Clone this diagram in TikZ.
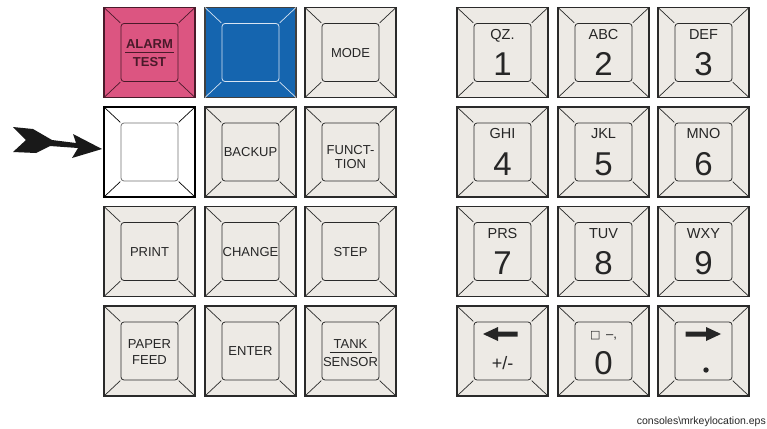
\documentclass[tikz,border=0pt]{standalone}
\usepackage{fontspec}
\setmainfont{Liberation Sans}
\newfontfamily\dejavu{DejaVu Sans}
\usetikzlibrary{calc}
\definecolor{keyface}{HTML}{EDEAE5}
\definecolor{keyline}{HTML}{2A2A2A}
\definecolor{alarmpink}{HTML}{DC5581}
\definecolor{alarmline}{HTML}{4A1A2A}
\definecolor{keyblue}{HTML}{1565AF}
\definecolor{blueline}{HTML}{D8E4F2}
\tikzset{
  outerkey/.style={rectangle, minimum width=91pt, minimum height=90pt, inner sep=0pt, outer sep=0pt, line width=1.2pt},
  innerkey/.style={rectangle, minimum width=57pt, minimum height=58pt, inner sep=0pt, outer sep=0pt, rounded corners=3pt, line width=0.8pt},
  diag/.style={line width=0.7pt, shorten >=1pt},
  lbl/.style={inner sep=0pt, font=\fontsize{13}{15}\selectfont, text height=9.3pt, text depth=0pt, text=black!85},
  blbl/.style={lbl, font=\fontsize{13}{15}\selectfont\bfseries, text=alarmline},
  numlbl/.style={inner sep=0pt, font=\fontsize{14.5}{16}\selectfont, text height=10.4pt, text depth=0pt, text=black!85},
  digit/.style={inner sep=0pt, font=\fontsize{33}{36}\selectfont, text height=24pt, text depth=0pt, text=black!85},
  sublbl/.style={inner sep=0pt, font=\fontsize{18}{20}\selectfont, text height=13pt, text depth=0pt, text=black!85},
  ulline/.style={line width=0.8pt},
  keyarrow/.style={fill=black!85},
  caption/.style={inner sep=0pt, font=\fontsize{10.5}{12}\selectfont, text=black!85}
}
% #1 name, #2 x, #3 y, #4 fill, #5 outer colour, #6 line colour, #7 inner colour
\newcommand\kbkey[7]{%
  \node[outerkey, fill=#4, draw=#5] (#1) at (#2,#3) {};
  \node[innerkey, fill=#4, draw=#7] (#1i) at (#2,#3) {};
  \foreach \a in {north west,north east,south west,south east}
    {\draw[diag, draw=#6] (#1.\a) -- (#1i.\a);}%
}
\newcommand\kbplain[3]{\kbkey{#1}{#2}{#3}{keyface}{keyline}{keyline}{keyline}}
\begin{document}
\begin{tikzpicture}[x=1pt,y=-1pt]
\useasboundingbox (0,0) rectangle (767,428);

% ---- left block, row 1
\kbkey{alarm}{149.5}{52.5}{alarmpink}{alarmline}{alarmline}{alarmline}
\node[blbl] (alarmA) at (149.5,44) {ALARM};
\node[blbl] (alarmT) at (149.5,61.5) {TEST};
\draw[ulline, alarmline] ($(alarm)+(-24.5,0)$) -- ($(alarm)+(24.5,0)$);

\kbkey{blue}{250.5}{52.5}{keyblue}{black!75}{blueline}{blueline}

\kbplain{mode}{350.5}{52.5}
\node[lbl] (modeT) at (mode) {MODE};

% ---- row 2
\kbkey{wkey}{149.5}{152}{white}{black}{black}{black!55}

\kbplain{backup}{250.5}{152}
\node[lbl] (backupT) at (backup) {BACKUP};
\kbplain{funct}{350.5}{152}
\node[lbl] (functA) at ($(funct)+(0,-2)$) {FUNCT-};
\node[lbl] (functB) at ($(funct)+(0,11.5)$) {TION};

% ---- row 3
\kbplain{print}{149.5}{251.5}
\node[lbl] (printT) at (print) {PRINT};
\kbplain{change}{250.5}{251.5}
\node[lbl] (changeT) at (change) {CHANGE};
\kbplain{stepkey}{350.5}{251.5}
\node[lbl] (stepT) at (stepkey) {STEP};

% ---- row 4
\kbplain{paper}{149.5}{351}
\node[lbl] (paperA) at ($(paper)+(0,-7)$) {PAPER};
\node[lbl] (paperB) at ($(paper)+(0,9)$) {FEED};
\kbplain{enter}{250.5}{351}
\node[lbl] (enterT) at (enter) {ENTER};
\kbplain{tank}{350.5}{351}
\node[lbl] (tankA) at ($(tank)+(0,-7)$) {TANK};
\node[lbl] (tankB) at ($(tank)+(0,10.5)$) {SENSOR};
\draw[ulline, black!85] ($(tank)+(-21,1)$) -- ($(tank)+(21,1)$);

% ---- numeric block
\foreach \n/\x/\y/\l/\d in {1/502.5/52.5/QZ./1, 2/603.5/52.5/ABC/2, 3/703.5/52.5/DEF/3,
  4/502.5/152/GHI/4, 5/603.5/152/JKL/5, 6/703.5/152/MNO/6,
  7/502.5/251.5/PRS/7, 8/603.5/251.5/TUV/8, 9/703.5/251.5/WXY/9}{
  \kbplain{num\n}{\x}{\y}
  \node[numlbl] (num\n L) at ($(num\n)+(0,-18.5)$) {\l};
  \node[digit] (num\n D) at ($(num\n)+(0,11)$) {\d};
}

\kbplain{minus}{502.5}{351}
\fill[keyarrow] ($(minus)+(-19.5,-17)$) coordinate (mtip) -- ++(15,-7) -- ++(0,4.5) -- ++(19.5,0) -- ++(0,5) -- ++(-19.5,0) -- ++(0,4.5) -- cycle;
\node[sublbl] (minusT) at ($(minus)+(0,12)$) {+/-};

\kbplain{zero}{603.5}{351}
\node[lbl] (zeroL) at ($(zero)+(0,-17)$) {{\dejavu\fontsize{11}{12}\selectfont □}\, –,};
\node[digit] (zeroD) at ($(zero)+(0,11)$) {0};

\kbplain{dot}{703.5}{351}
\fill[keyarrow] ($(dot)+(17.5,-17)$) coordinate (dtip) -- ++(-15,-7) -- ++(0,4.5) -- ++(-20.5,0) -- ++(0,5) -- ++(20.5,0) -- ++(0,4.5) -- cycle;
\fill[black!85] ($(dot)+(2.5,19)$) circle (2.7pt);

% ---- pointer arrow
\coordinate (arrtip) at ($(wkey.west)+(-2,-3)$);
\begin{scope}[shift={(arrtip)}]
\fill[black!90] (0,0) -- (-30,9) -- (-24,-1) -- (-52,-3) -- (-66,4) -- (-89,3)
  -- (-76,-9) -- (-89,-22) -- (-69,-20) -- (-50,-9) -- (-26,-6) -- (-29,-15) -- cycle;
\end{scope}

% ---- caption
\node[caption, anchor=base east] (cap) at (766,424) {consoles\textbackslash mrkeylocation.eps};
\end{tikzpicture}
\end{document}
